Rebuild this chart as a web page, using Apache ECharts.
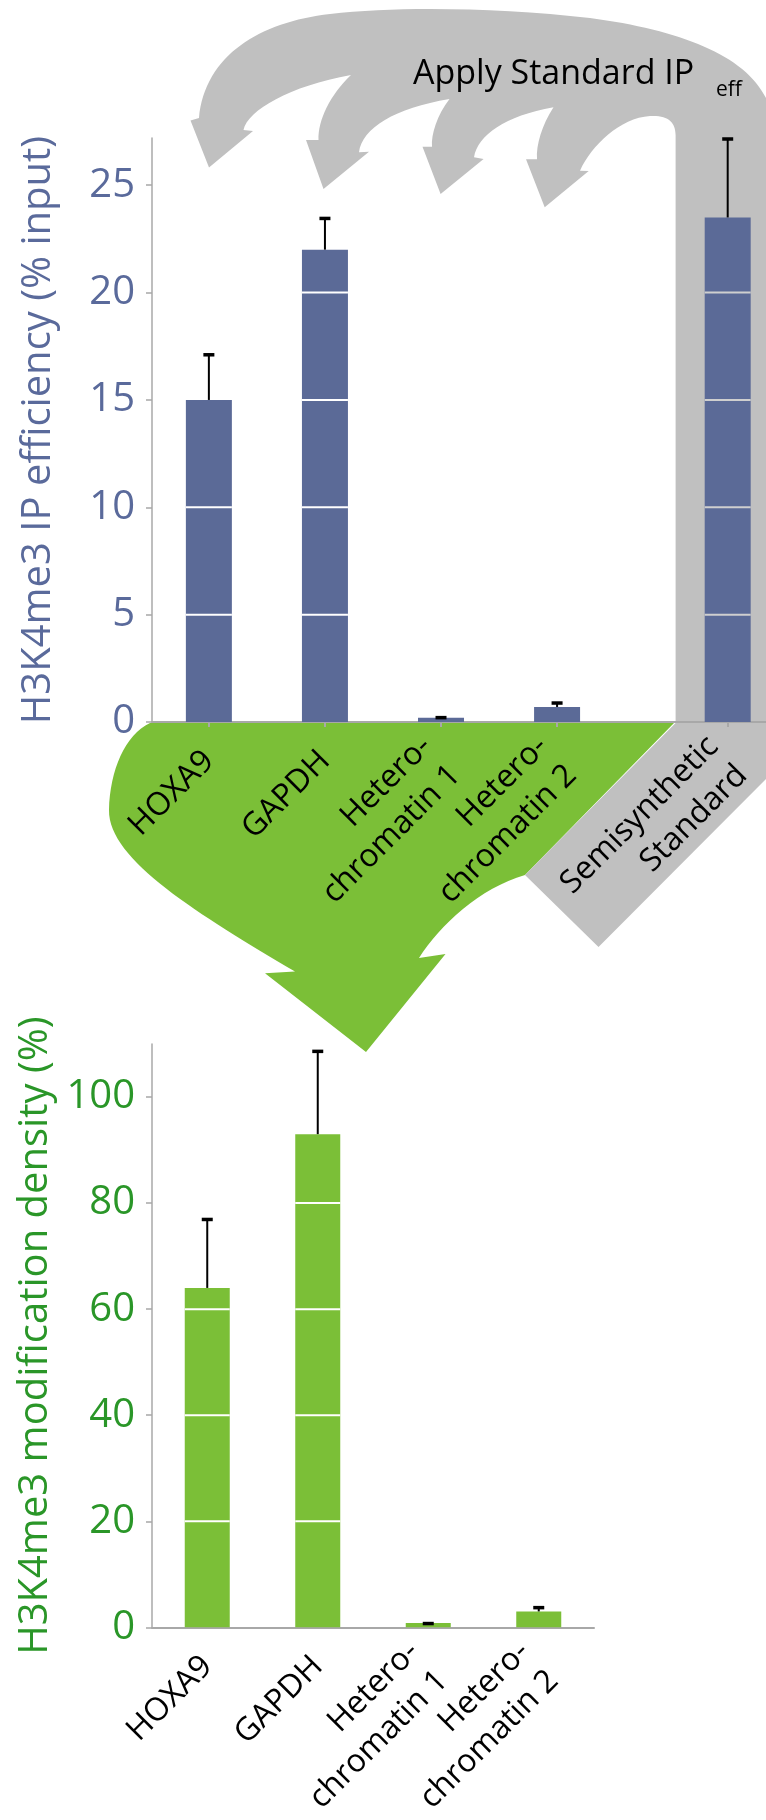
<!DOCTYPE html>
<html>
<head>
<meta charset="utf-8">
<title>H3K4me3 IP efficiency and modification density</title>
<script src="https://cdn.jsdelivr.net/npm/echarts@6/dist/echarts.min.js"></script>
<style>
  html, body { margin: 0; padding: 0; background: #fff; }
  #chart { width: 766px; height: 1820px; }
</style>
</head>
<body>
<div id="chart"></div>
<script>
// top panel: IP efficiency (% input)
var ipCategories = ['HOXA9', 'GAPDH', 'Hetero-\nchromatin 1', 'Hetero-\nchromatin 2', 'Semisynthetic\nStandard'];
var ipValues = [15.0, 22.0, 0.2, 0.7, 23.5];
var ipErrors = [2.15, 1.5, 0.05, 0.23, 3.7];
var ipTicks = [0, 5, 10, 15, 20, 25];

// bottom panel: modification density (%)
var densCategories = ['HOXA9', 'GAPDH', 'Hetero-\nchromatin 1', 'Hetero-\nchromatin 2'];
var densValues = [64, 93, 0.8, 3.0];
var densErrors = [13.1, 15.8, 0.1, 0.9];
var densTicks = [0, 20, 40, 60, 80, 100];

// layout: the standard sits a bit apart from the four loci
var ipSlots = [0, 1, 2, 3, 4.47];

var FONT = "'Open Sans', sans-serif";
var BLUE = '#5b6a97';
var BLUE_TEXT = '#5a6a9b';
var GREEN = '#7bbf37';
var GREEN_TEXT = '#2a9628';
var GRAY = '#c0c0c0';
var AXIS = '#a8a8a8';

// decorative arrows (grey: apply standard, green: result)
var grayArrows =
  'M 766 98 C 745 55, 680 30, 590 18 C 500 8, 400 6, 330 14 C 260 22, 205 55, 199 118 ' +
  'L 190.5 120.5 L 209 167.5 L 253 131 L 243.5 130 ' +
  'C 248 110, 290 86, 351 75 C 330 95, 318 120, 318.5 140 ' +
  'L 306 140 L 323.5 189 L 369 151.7 L 359 152.3 ' +
  'C 362 128, 395 108, 449.5 99 C 437 115, 431 135, 432 146.7 ' +
  'L 422.5 146.7 L 440.6 194 L 483.6 159 L 474 157.3 ' +
  'C 478 135, 505 116, 553.5 107.3 C 542 125, 536 145, 537 159.3 ' +
  'L 526 159.3 L 544.7 207.3 L 588.7 171 L 580 170.7 ' +
  'C 592 145, 620 118, 650 116 C 668 115, 675.6 122, 675.6 135 ' +
  'L 675.6 723 L 525 875 L 598.5 947 L 766 779 Z';

var greenArrow =
  'M 150 723 C 125 735, 110 770, 109 810 C 108 860, 200 915, 295 971.5 ' +
  'L 265 973.3 L 366 1052 L 445.5 954 L 419 958 ' +
  'C 440 925, 480 888, 525 875 L 674 723 Z';

echarts.graphic.registerShape('grayArrows', echarts.graphic.extendPath(grayArrows, {}));
echarts.graphic.registerShape('greenArrow', echarts.graphic.extendPath(greenArrow, {}));

var chart = echarts.init(document.getElementById('chart'));

// bar with white separator lines at every tick step
function barItem(width, step, lineColors) {
  return function (params, api) {
    var x = api.value(0);
    var v = api.value(1);
    var base = api.coord([x, 0]);
    var top = api.coord([x, v]);
    var children = [{
      type: 'rect',
      shape: { x: base[0] - width / 2, y: top[1], width: width, height: base[1] - top[1] },
      style: { fill: api.visual('color') }
    }];
    for (var t = step; t < v; t += step) {
      var y = api.coord([x, t])[1];
      children.push({
        type: 'line',
        shape: { x1: base[0] - width / 2, y1: y, x2: base[0] + width / 2, y2: y },
        style: { stroke: lineColors[params.dataIndex] || '#fff', lineWidth: 2 }
      });
    }
    return { type: 'group', children: children };
  };
}

// upper error bar only
function errItem(params, api) {
  var x = api.value(0);
  var v = api.value(1);
  var e = api.value(2);
  var p0 = api.coord([x, v]);
  var p1 = api.coord([x, v + e]);
  return {
    type: 'group',
    children: [
      { type: 'line', shape: { x1: p0[0], y1: p0[1], x2: p1[0], y2: p1[1] }, style: { stroke: '#000', lineWidth: 2 } },
      { type: 'line', shape: { x1: p1[0] - 5.5, y1: p1[1] + 1, x2: p1[0] + 5.5, y2: p1[1] + 1 }, style: { stroke: '#000', lineWidth: 3.5 } }
    ]
  };
}

var ipBars = ipValues.map(function (v, i) { return [ipSlots[i], v]; });
var ipErr = ipValues.map(function (v, i) { return [ipSlots[i], v, ipErrors[i]]; });
var densBars = densValues.map(function (v, i) { return [i, v]; });
var densErr = densValues.map(function (v, i) { return [i, v, densErrors[i]]; });

function slotName(val) {
  for (var i = 0; i < ipSlots.length; i++) {
    if (Math.abs(ipSlots[i] - val) < 0.01) return ipCategories[i];
  }
  return '';
}

var xLabel = {
  rotate: 45,
  margin: 34,
  color: '#000',
  fontFamily: FONT,
  fontSize: 32,
  lineHeight: 41
};

chart.setOption({
  animation: false,
  backgroundColor: '#fff',
  textStyle: { fontFamily: FONT },
  graphic: [
    { type: 'greenArrow', z: -10, shape: {}, style: { fill: GREEN } },
    { type: 'grayArrows', z: -10, shape: {}, style: { fill: GRAY } },
    {
      type: 'text', z: 10, x: 413, y: 74,
      style: { text: 'Apply Standard IP', fill: '#000', fontSize: 34, fontFamily: FONT, align: 'left', verticalAlign: 'middle' }
    },
    {
      type: 'text', z: 10, x: 716, y: 90,
      style: { text: 'eff', fill: '#000', fontSize: 21, fontFamily: FONT, align: 'left', verticalAlign: 'middle' }
    }
  ],
  grid: [
    { left: 152, top: 138, width: 614, height: 584 },
    { left: 152, top: 1044, width: 442, height: 586 }
  ],
  xAxis: [
    {
      gridIndex: 0,
      type: 'value',
      min: -0.49,
      max: 4.8,
      axisLine: { lineStyle: { color: AXIS, width: 2 } },
      axisTick: { customValues: ipSlots, length: 5, lineStyle: { color: AXIS, width: 2 } },
      axisLabel: Object.assign({ customValues: ipSlots, formatter: slotName }, xLabel),
      splitLine: { show: false }
    },
    {
      gridIndex: 1,
      type: 'category',
      data: densCategories,
      axisLine: { lineStyle: { color: AXIS, width: 2 } },
      axisTick: { alignWithLabel: true, length: 5, lineStyle: { color: AXIS, width: 2 } },
      axisLabel: Object.assign({ interval: 0 }, xLabel),
      splitLine: { show: false }
    }
  ],
  yAxis: [
    {
      gridIndex: 0,
      type: 'value',
      min: 0,
      max: 27.2,
      name: 'H3K4me3 IP efficiency (% input)',
      nameLocation: 'middle',
      nameGap: 93,
      nameTextStyle: { color: BLUE_TEXT, fontSize: 40, fontFamily: FONT },
      axisLine: { show: true, onZero: false, lineStyle: { color: AXIS, width: 1.5 } },
      axisTick: { show: true, customValues: ipTicks, length: 6, lineStyle: { color: AXIS, width: 1.5 } },
      axisLabel: { customValues: ipTicks, margin: 17, color: BLUE_TEXT, fontSize: 40, fontFamily: FONT },
      splitLine: { show: false }
    },
    {
      gridIndex: 1,
      type: 'value',
      min: 0,
      max: 110,
      name: 'H3K4me3 modification density (%)',
      nameLocation: 'middle',
      nameGap: 93,
      nameTextStyle: { color: GREEN_TEXT, fontSize: 40, fontFamily: FONT },
      axisLine: { show: true, onZero: false, lineStyle: { color: AXIS, width: 1.5 } },
      axisTick: { show: true, customValues: densTicks, length: 6, lineStyle: { color: AXIS, width: 1.5 } },
      axisLabel: { customValues: densTicks, margin: 17, color: GREEN_TEXT, fontSize: 40, fontFamily: FONT },
      splitLine: { show: false }
    }
  ],
  series: [
    {
      name: 'IP efficiency',
      type: 'custom',
      xAxisIndex: 0,
      yAxisIndex: 0,
      itemStyle: { color: BLUE },
      renderItem: barItem(46, 5, ['#fff', '#fff', '#fff', '#fff', '#cfcfcf']),
      data: ipBars,
      z: 2
    },
    {
      name: 'IP efficiency error',
      type: 'custom',
      xAxisIndex: 0,
      yAxisIndex: 0,
      renderItem: errItem,
      data: ipErr,
      z: 3
    },
    {
      name: 'Modification density',
      type: 'custom',
      xAxisIndex: 1,
      yAxisIndex: 1,
      itemStyle: { color: GREEN },
      renderItem: barItem(45, 20, []),
      data: densBars,
      z: 2
    },
    {
      name: 'Modification density error',
      type: 'custom',
      xAxisIndex: 1,
      yAxisIndex: 1,
      renderItem: errItem,
      data: densErr,
      z: 3
    }
  ]
});
</script>
</body>
</html>
